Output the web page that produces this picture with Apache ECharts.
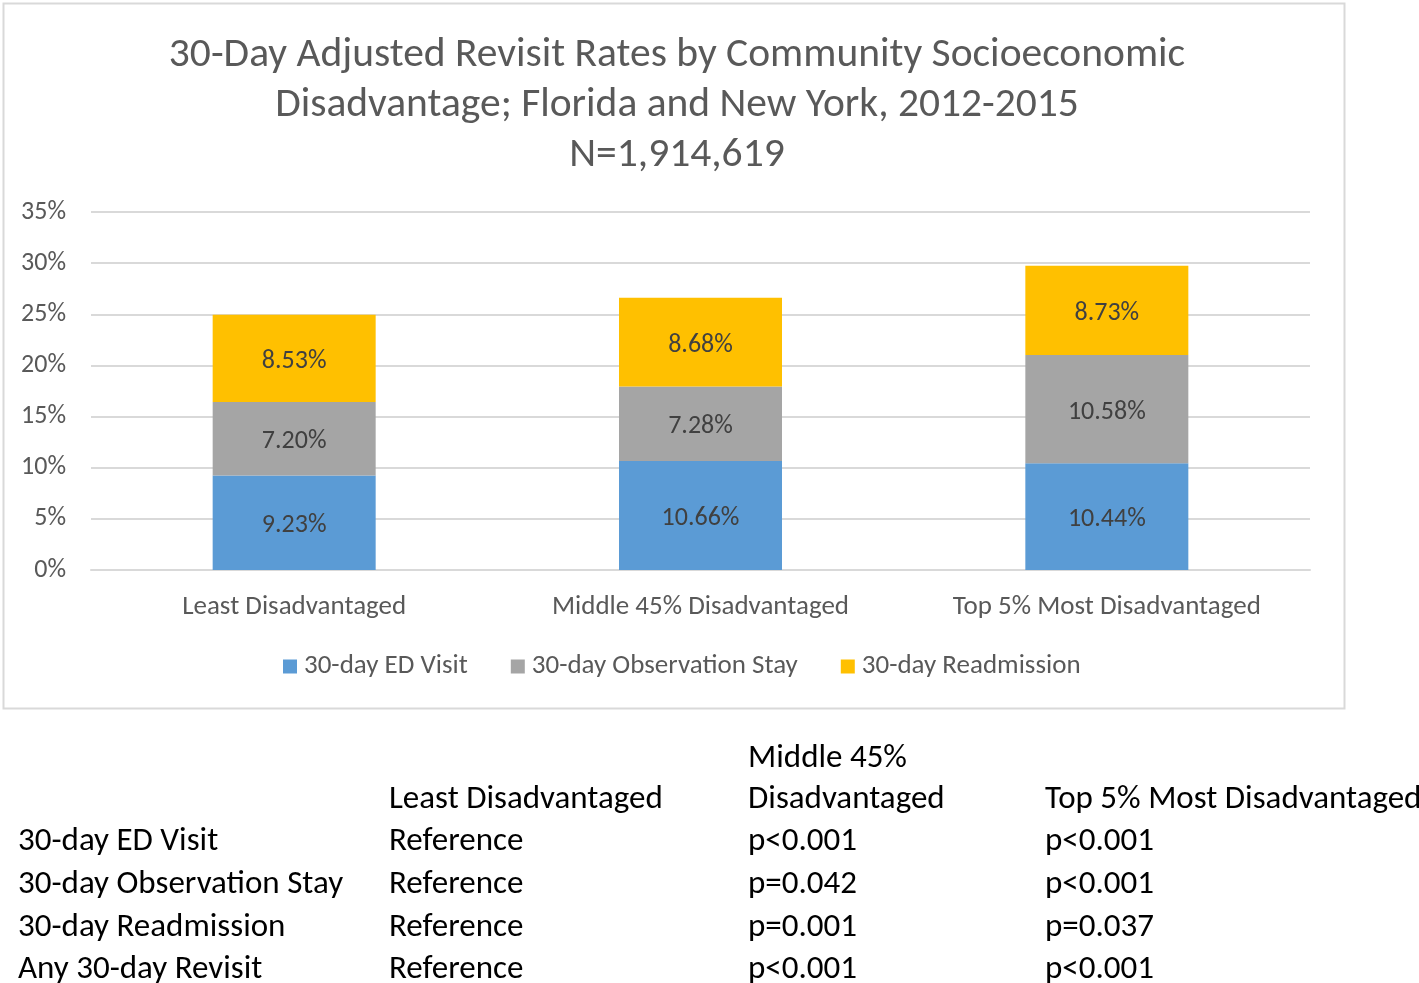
<!DOCTYPE html>
<html>
<head>
<meta charset="utf-8">
<script src="https://cdn.jsdelivr.net/npm/echarts@6/dist/echarts.min.js"></script>
<style>
html,body{margin:0;padding:0;background:#fff;}
#main{width:1419px;height:983px;}
</style>
</head>
<body>
<div id="main"></div>
<script>
const categories = ['Least Disadvantaged', 'Middle 45% Disadvantaged', 'Top 5% Most Disadvantaged'];
const seriesNames = ['30-day ED Visit', '30-day Observation Stay', '30-day Readmission'];
const edVisit = [9.23, 10.66, 10.44];
const obsStay = [7.20, 7.28, 10.58];
const readmit = [8.53, 8.68, 8.73];
const yTicks = [0, 5, 10, 15, 20, 25, 30, 35];
const titleText = '30-Day Adjusted Revisit Rates by Community Socioeconomic\nDisadvantage; Florida and New York, 2012-2015\nN=1,914,619';
const tableRowLabels = ['30-day ED Visit', '30-day Observation Stay', '30-day Readmission', 'Any 30-day Revisit'];
const tableColLabels = ['Least Disadvantaged', 'Middle 45%\nDisadvantaged', 'Top 5% Most Disadvantaged'];
const pValues = [
  ['Reference', 'p<0.001', 'p<0.001'],
  ['Reference', 'p=0.042', 'p<0.001'],
  ['Reference', 'p=0.001', 'p=0.037'],
  ['Reference', 'p<0.001', 'p<0.001']
];

const FONT = 'Carlito, Lato, "Open Sans", sans-serif';
const colors = ['#5B9BD5', '#A5A5A5', '#FFC000'];
const dataSets = [edVisit, obsStay, readmit];

const chart = echarts.init(document.getElementById('main'), null, {renderer: 'canvas'});

const graphics = [];
graphics.push({
  type: 'rect', left: 1, top: 1, z: -1,
  shape: {width: 1341, height: 705},
  style: {fill: 'none', stroke: '#d9d9d9', lineWidth: 2}
});
const colX = [18, 389, 748, 1045];
const rowY = [842, 885, 928, 970];
const tFont = '33px ' + FONT;
tableColLabels.forEach((lab, j) => {
  const lines = lab.split('\n');
  lines.forEach((ln, k) => {
    const y = 800 - (lines.length - 1 - k) * 41;
    graphics.push({type: 'text', x: colX[j + 1], y: y,
      style: {text: ln, font: tFont, fill: '#000', textVerticalAlign: 'middle', verticalAlign: 'middle'}});
  });
});
tableRowLabels.forEach((lab, i) => {
  graphics.push({type: 'text', x: colX[0], y: rowY[i],
    style: {text: lab, font: tFont, fill: '#000', textVerticalAlign: 'middle', verticalAlign: 'middle'}});
  pValues[i].forEach((v, j) => {
    graphics.push({type: 'text', x: colX[j + 1], y: rowY[i],
      style: {text: v, font: tFont, fill: '#000', textVerticalAlign: 'middle', verticalAlign: 'middle'}});
  });
});

chart.setOption({
  animation: false,
  backgroundColor: '#fff',
  textStyle: {fontFamily: FONT},
  title: {
    text: titleText,
    left: 672, top: 26, textAlign: 'center',
    textStyle: {fontFamily: FONT, fontSize: 41.5, fontWeight: 'normal', color: '#595959', lineHeight: 50}
  },
  legend: {
    data: seriesNames,
    top: 648, left: 278,
    itemWidth: 14, itemHeight: 14, itemGap: 43,
    icon: 'rect',
    textStyle: {fontFamily: FONT, fontSize: 27, color: '#595959', padding: [0, 0, 0, 2]}
  },
  grid: {left: 91, right: 109, top: 212, bottom: 413, containLabel: false},
  xAxis: {
    type: 'category',
    data: categories,
    axisLine: {lineStyle: {color: '#d9d9d9', width: 2}},
    axisTick: {show: false},
    axisLabel: {fontFamily: FONT, fontSize: 27, color: '#595959', margin: 24}
  },
  yAxis: {
    type: 'value',
    min: 0, max: 35, interval: 5,
    axisLine: {show: false},
    axisTick: {show: false},
    splitLine: {lineStyle: {color: '#d9d9d9', width: 2}},
    axisLabel: {fontFamily: FONT, fontSize: 26, color: '#595959', margin: 25, padding: [4, 0, 0, 0],
      formatter: v => yTicks.includes(v) ? v + '%' : ''}
  },
  series: dataSets.map((d, i) => ({
    name: seriesNames[i],
    type: 'bar',
    stack: 'total',
    data: d,
    barWidth: 163,
    itemStyle: {color: colors[i]},
    label: {
      show: true, position: 'inside', offset: [0, 3],
      fontFamily: FONT, fontSize: 26, color: '#404040',
      formatter: p => p.value.toFixed(2) + '%'
    }
  })),
  graphic: graphics
});
</script>
</body>
</html>
